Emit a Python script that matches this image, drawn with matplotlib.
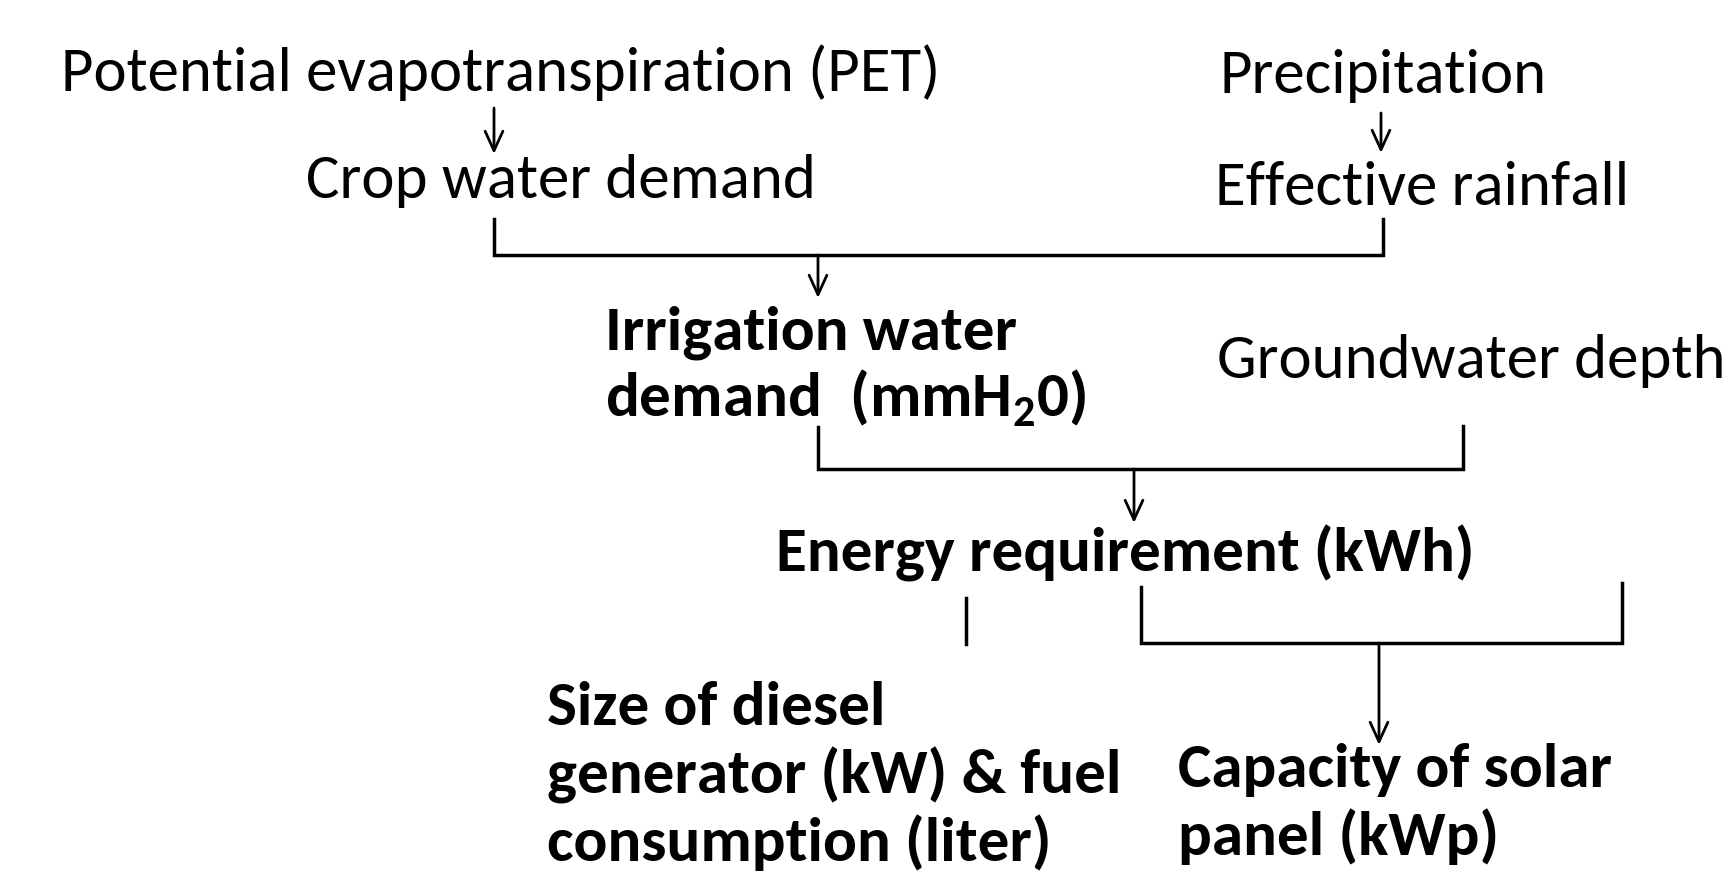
import matplotlib
matplotlib.use("Agg")
import matplotlib.pyplot as plt
from matplotlib import font_manager

# pick a Calibri-like face if there is one
names = {f.name for f in font_manager.fontManager.ttflist}
family = 'Carlito' if 'Carlito' in names else 'Lato'
plt.rcParams['font.family'] = [family, 'DejaVu Sans']
plt.rcParams['mathtext.fontset'] = 'custom'
plt.rcParams['mathtext.rm'] = family
plt.rcParams['mathtext.bf'] = family + ':bold'

# plain labels and where their baseline starts (px, from top-left)
plain_labels = ["Potential evapotranspiration (PET)", "Crop water demand",
                "Precipitation", "Effective rainfall", "Groundwater depth"]
plain_pos = [(61, 91), (306, 198), (1219, 93), (1215, 205), (1217, 378)]

# bold labels, one list of lines each
bold_labels = [["Irrigation water", r"demand  (mmH$_{\mathbf{2}}$0)"],
               ["Energy requirement (kWh)"],
               ["Size of diesel", "generator (kW) & fuel", "consumption (liter)"],
               ["Capacity of solar", "panel (kWp)"]]
bold_pos = [(605, 349), (776, 572), (547, 725), (1178, 787)]
line_gap = 68

# connector lines (brackets) and arrows (x, y_from, y_to)
brackets = [[(494, 219), (494, 255), (1383, 255), (1383, 219)],
            [(818, 427), (818, 469), (1463, 469), (1463, 426)],
            [(1141, 587), (1141, 643), (1622, 643), (1622, 583)],
            [(966, 598), (966, 644)]]
arrows = [(494, 108, 154), (1381, 113, 153), (818, 255, 298),
          (1134, 469, 523), (1379, 643, 745)]

W, H = 1736, 873
fig = plt.figure(figsize=(W / 100, H / 100), dpi=100)
ax = fig.add_axes([0, 0, 1, 1])
ax.set_xlim(0, W)
ax.set_ylim(H, 0)
ax.axis('off')

renderer = fig.canvas.get_renderer()


def fit_size(text, weight, target_w):
    t = ax.text(0, 0, text, fontsize=40, fontweight=weight)
    w = t.get_window_extent(renderer).width
    t.remove()
    return 40 * target_w / w


fs_plain = fit_size(plain_labels[0], 'normal', 879)
fs_bold = fit_size(bold_labels[1][0], 'bold', 697)

for lab, (x, y) in zip(plain_labels, plain_pos):
    ax.text(x, y, lab, fontsize=fs_plain, va='baseline', ha='left')

for lines, (x, y) in zip(bold_labels, bold_pos):
    for i, ln in enumerate(lines):
        ax.text(x, y + i * line_gap, ln, fontsize=fs_bold, fontweight='bold',
                va='baseline', ha='left')

for seg in brackets:
    xs = [p[0] for p in seg]
    ys = [p[1] for p in seg]
    ax.plot(xs, ys, color='black', lw=2.5, solid_joinstyle='miter')

for x, y0, y1 in arrows:
    ax.annotate('', xy=(x, y1), xytext=(x, y0),
                arrowprops=dict(arrowstyle='->,head_length=0.7,head_width=0.32',
                                lw=2.0, color='black', shrinkA=0, shrinkB=0,
                                mutation_scale=20))

fig.savefig('out.png', dpi=100, facecolor='white')
